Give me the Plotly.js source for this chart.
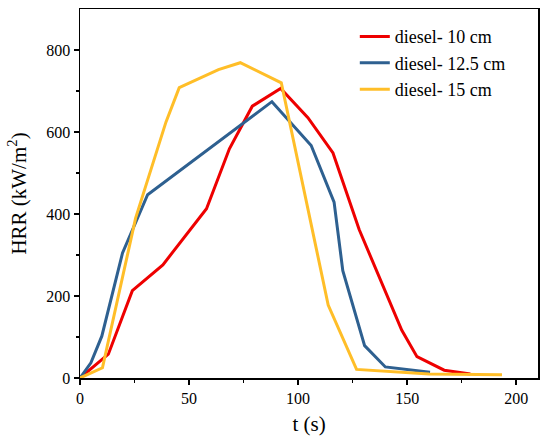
<!DOCTYPE html>
<html>
<head>
<meta charset="utf-8">
<script src="https://cdn.plot.ly/plotly-3.0.1.min.js"></script>
<style>html,body{margin:0;padding:0;background:#fff;}#chart{width:550px;height:442px;}</style>
</head>
<body>
<div id="chart"></div>
<script>
var seriesNames = ["diesel- 10 cm", "diesel- 12.5 cm", "diesel- 15 cm"];
var t10 = [0, 13, 24, 38, 58, 68.5, 79, 92, 104.5, 116, 128, 147.5, 154.5, 167, 179];
var hrr10 = [0, 58, 213, 276, 413, 559, 663, 706, 635, 549, 362, 117, 52, 19, 10];
var t125 = [0, 5, 10, 19.5, 31, 88, 106, 116.5, 120.5, 130.5, 140, 160.5];
var hrr125 = [0, 37, 102, 305, 447, 674, 567, 429, 262, 79, 27, 14];
var t15 = [0, 10.3, 25.5, 39.4, 45.5, 63.5, 73.5, 92.3, 113.8, 126.8, 160, 193.5];
var hrr15 = [0, 25, 390, 624, 708, 752, 769, 720, 178, 21, 10, 8];
var colors = ["#EE0000", "#2E6090", "#FFBE28"];

var font = "Liberation Serif, Times New Roman, serif";
var traces = [
  {x: t10, y: hrr10, name: seriesNames[0], mode: "lines", line: {color: colors[0], width: 3}},
  {x: t125, y: hrr125, name: seriesNames[1], mode: "lines", line: {color: colors[1], width: 3}},
  {x: t15, y: hrr15, name: seriesNames[2], mode: "lines", line: {color: colors[2], width: 3}}
];
function axis(range, vals, minorVals, title, standoff) {
  return {
    range: range, tickvals: vals,
    showgrid: false, zeroline: false, showline: true, linecolor: "#000", linewidth: 1.5,
    mirror: true, ticks: "outside", ticklen: 5, tickwidth: 1.5, tickcolor: "#000",
    tickfont: {family: font, size: 16, color: "#000"},
    minor: {ticks: "outside", ticklen: 3, tickwidth: 1.5, tickcolor: "#000", tickvals: minorVals},
    title: {text: title, font: {family: font, size: 21, color: "#000"}, standoff: standoff}
  };
}
var layout = {
  width: 550, height: 442,
  margin: {l: 80, r: 12, t: 9, b: 64},
  paper_bgcolor: "#fff", plot_bgcolor: "#fff",
  font: {family: font, color: "#000"},
  showlegend: true,
  legend: {x: 0.60, y: 0.975, xanchor: "left", yanchor: "top", bgcolor: "rgba(0,0,0,0)",
           font: {family: font, size: 18, color: "#000"}, tracegroupgap: 0, itemwidth: 30},
  xaxis: axis([0, 210], [0, 50, 100, 150, 200], [25, 75, 125, 175], "t (s)", 10),
  yaxis: axis([0, 900], [0, 200, 400, 600, 800], [100, 300, 500, 700], "HRR (kW/m<sup>2</sup>)", 14)
};
Plotly.newPlot("chart", traces, layout, {displayModeBar: false, staticPlot: true});
</script>
</body>
</html>
